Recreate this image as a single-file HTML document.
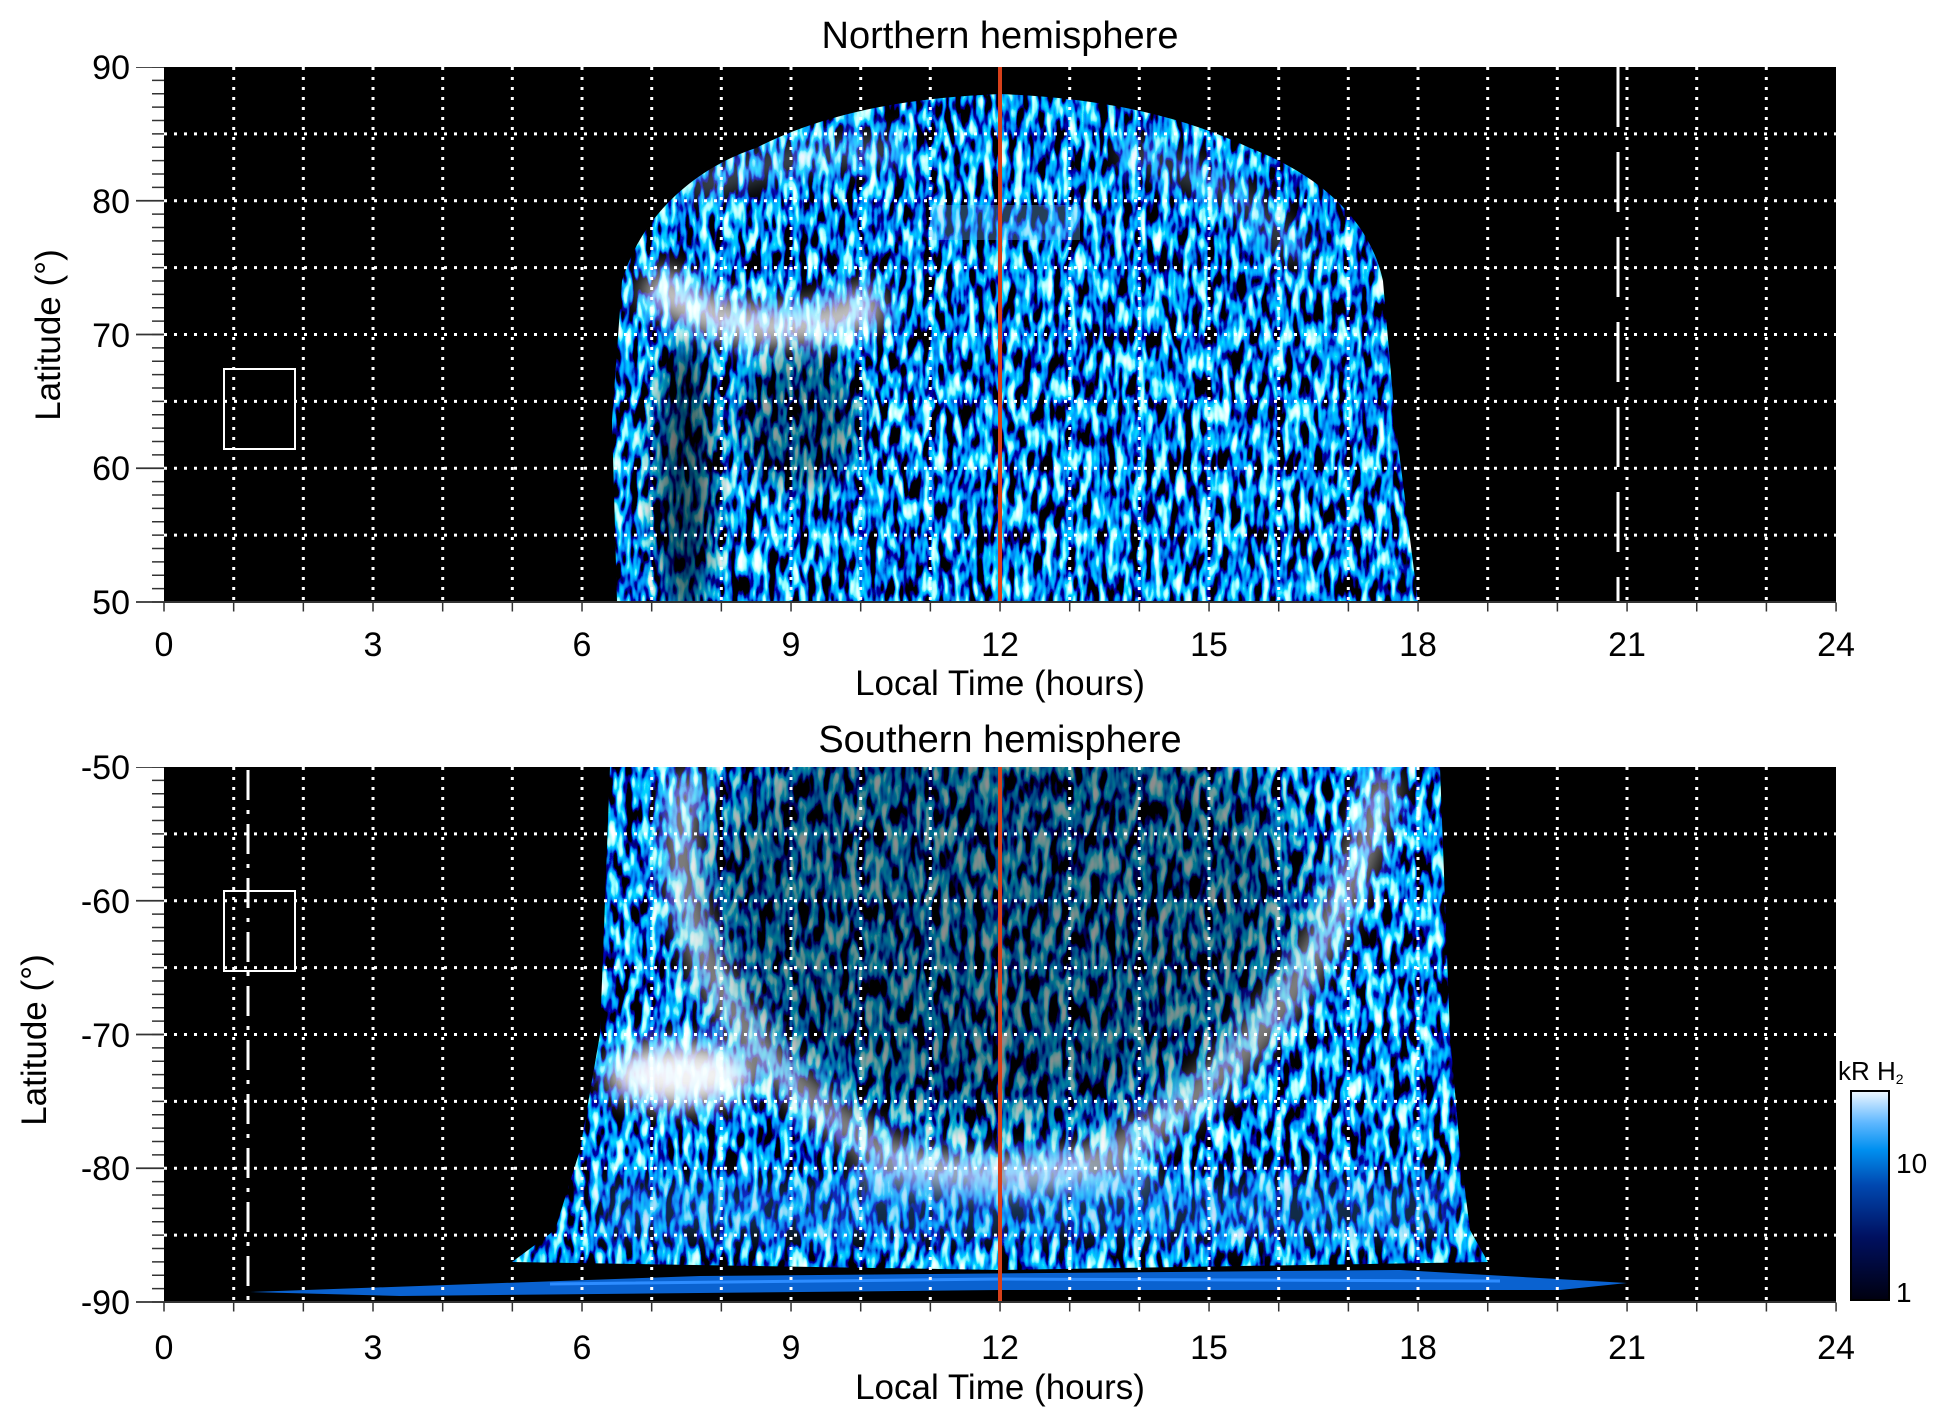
<!DOCTYPE html>
<html><head><meta charset="utf-8"><style>
html,body{margin:0;padding:0;background:#fff;}
svg{display:block;font-family:"Liberation Sans",sans-serif;}
</style></head><body>
<svg width="1950" height="1423" viewBox="0 0 1950 1423" xmlns="http://www.w3.org/2000/svg">
<defs>
<filter id="tex1" x="0" y="0" width="1" height="1">
 <feTurbulence type="fractalNoise" baseFrequency="0.13 0.04" numOctaves="2" seed="4"/>
 <feColorMatrix type="matrix" values="5 0 0 0 -3.0  4.5 0 0 0 -2.0  7 0 0 0 -2.6  0 0 0 0 1"/>
</filter>
<filter id="tex2" x="0" y="0" width="1" height="1">
 <feTurbulence type="fractalNoise" baseFrequency="0.12 0.04" numOctaves="2" seed="9"/>
 <feColorMatrix type="matrix" values="5 0 0 0 -3.0  4.5 0 0 0 -2.0  7 0 0 0 -2.6  0 0 0 0 1"/>
</filter>
<filter id="blur" x="-1" y="-1" width="3" height="3"><feGaussianBlur stdDeviation="12"/></filter>
<filter id="blur2" x="-1" y="-1" width="3" height="3"><feGaussianBlur stdDeviation="30"/></filter>
<clipPath id="cn"><path d="M617,602 L612,420 L622,281 C640,220 690,170 756,148 C820,115 900,98 1000,94 C1100,98 1180,115 1250,148 C1320,175 1370,220 1383,281 L1395,420 L1418,602 Z"/></clipPath>
<clipPath id="cs"><path d="M610,767 L605,900 L600,1034 L580,1150 L555,1230 L512,1262 L1000,1270 L1488,1262 L1470,1230 L1460,1150 L1450,1034 L1445,900 L1440,767 Z"/></clipPath>
<clipPath id="ps"><rect x="164" y="767" width="1672" height="535"/></clipPath>
<clipPath id="pn"><rect x="164" y="67" width="1672" height="535"/></clipPath>
<linearGradient id="cb" x1="0" y1="1" x2="0" y2="0">
 <stop offset="0" stop-color="#000010"/><stop offset="0.3" stop-color="#001060"/>
 <stop offset="0.55" stop-color="#0048b0"/><stop offset="0.72" stop-color="#0090f0"/>
 <stop offset="0.85" stop-color="#60b8ff"/><stop offset="1" stop-color="#f0f8ff"/>
</linearGradient>
</defs>

<text x="1000" y="48" font-size="38" text-anchor="middle">Northern hemisphere</text>
<text x="1000" y="752" font-size="38" text-anchor="middle">Southern hemisphere</text>

<!-- TOP PLOT -->
<rect x="164" y="67" width="1672" height="535" fill="#000"/>
<g clip-path="url(#pn)">
<g clip-path="url(#cn)">
 <rect x="600" y="80" width="830" height="530" filter="url(#tex1)"/>
 <path d="M650,280 C710,330 800,345 880,300" stroke="#fff" stroke-width="40" fill="none" opacity="0.8" filter="url(#blur)"/>
 <path d="M690,190 C760,160 830,150 900,150" stroke="#bfe0ff" stroke-width="25" fill="none" opacity="0.4" filter="url(#blur)"/>
 <path d="M1120,150 C1200,170 1260,200 1300,260" stroke="#bfe0ff" stroke-width="25" fill="none" opacity="0.35" filter="url(#blur)"/>
 <ellipse cx="685" cy="480" rx="30" ry="140" fill="#000" opacity="0.6" filter="url(#blur)"/>
 <ellipse cx="800" cy="420" rx="60" ry="70" fill="#000" opacity="0.4" filter="url(#blur)"/>
 <rect x="930" y="205" width="150" height="35" fill="#6ab8ff" opacity="0.35"/>
</g>
</g>
<g stroke="#fff" stroke-width="3" stroke-dasharray="3 7" fill="none">
<path d="M233.7,67V602M303.3,67V602M373,67V602M442.7,67V602M512.3,67V602M582,67V602M651.7,67V602M721.3,67V602M791,67V602M860.7,67V602M930.3,67V602M1069.7,67V602M1139.3,67V602M1209,67V602M1278.7,67V602M1348.3,67V602M1418,67V602M1487.7,67V602M1557.3,67V602M1627,67V602M1696.7,67V602M1766.3,67V602"/>
<path d="M164,133.9H1836M164,200.75H1836M164,267.6H1836M164,334.5H1836M164,401.4H1836M164,468.25H1836M164,535.1H1836"/>
</g>
<line x1="1000" y1="67" x2="1000" y2="602" stroke="#d8401a" stroke-width="4"/>
<line x1="1618" y1="67" x2="1618" y2="602" stroke="#fff" stroke-width="3" stroke-dasharray="60 25"/>
<rect x="224" y="369" width="71" height="80" fill="none" stroke="#fff" stroke-width="2"/>
<line x1="164" y1="602" x2="1836" y2="602" stroke="#333" stroke-width="2"/>
<line x1="158" y1="67" x2="158" y2="603" stroke="#333" stroke-width="12" stroke-dasharray="1.5 11.875" stroke-dashoffset="0.75"/>
<line x1="150" y1="67" x2="150" y2="603" stroke="#333" stroke-width="28" stroke-dasharray="1.8 131.95" stroke-dashoffset="0.9"/>
<line x1="163" y1="607" x2="1838" y2="607" stroke="#333" stroke-width="9" stroke-dasharray="1.5 68.17" stroke-dashoffset="-0.25"/>
<g font-size="34" text-anchor="end">
<text x="130" y="79">90</text><text x="130" y="213">80</text><text x="130" y="347">70</text>
<text x="130" y="480">60</text><text x="130" y="614">50</text>
</g>
<g font-size="34" text-anchor="middle">
<text x="164" y="656">0</text><text x="373" y="656">3</text><text x="582" y="656">6</text><text x="791" y="656">9</text>
<text x="1000" y="656">12</text><text x="1209" y="656">15</text><text x="1418" y="656">18</text><text x="1627" y="656">21</text><text x="1836" y="656">24</text>
</g>
<text x="1000" y="695" font-size="35" text-anchor="middle">Local Time (hours)</text>
<text transform="translate(60,335) rotate(-90)" font-size="35" text-anchor="middle">Latitude (°)</text>

<!-- BOTTOM PLOT -->
<rect x="164" y="767" width="1672" height="535" fill="#000"/>
<g clip-path="url(#ps)">
<g clip-path="url(#cs)">
 <rect x="500" y="767" width="1000" height="510" filter="url(#tex2)"/>
 <ellipse cx="1000" cy="900" rx="300" ry="220" fill="#000" opacity="0.45" filter="url(#blur2)"/>
 <path d="M690,775 C660,880 700,1040 880,1150 C960,1185 1040,1185 1120,1150 C1300,1040 1360,880 1385,775" stroke="#fff" stroke-width="30" fill="none" opacity="0.6" filter="url(#blur)"/>
 <ellipse cx="680" cy="1075" rx="75" ry="32" fill="#fff" opacity="0.95" filter="url(#blur)"/>
 <rect x="860" y="1160" width="290" height="30" fill="#cfe6ff" opacity="0.55" filter="url(#blur)"/>
 <rect x="600" y="1180" width="850" height="60" fill="#3a90f0" opacity="0.3" filter="url(#blur)"/>
</g>
 <path d="M250,1292 L700,1276 L1400,1270 L1627,1283 L1560,1290 L1000,1290 L400,1296 Z" fill="#0a62d0"/>
 <path d="M550,1284 L1000,1279 L1500,1281" stroke="#2d8cff" stroke-width="3" fill="none"/>
</g>
<g stroke="#fff" stroke-width="3" stroke-dasharray="3 7" fill="none">
<path d="M233.7,767V1302M303.3,767V1302M373,767V1302M442.7,767V1302M512.3,767V1302M582,767V1302M651.7,767V1302M721.3,767V1302M791,767V1302M860.7,767V1302M930.3,767V1302M1069.7,767V1302M1139.3,767V1302M1209,767V1302M1278.7,767V1302M1348.3,767V1302M1418,767V1302M1487.7,767V1302M1557.3,767V1302M1627,767V1302M1696.7,767V1302M1766.3,767V1302"/>
<path d="M164,833.9H1836M164,900.75H1836M164,967.6H1836M164,1034.5H1836M164,1101.4H1836M164,1168.25H1836M164,1235.1H1836"/>
</g>
<line x1="1000" y1="767" x2="1000" y2="1302" stroke="#d8401a" stroke-width="4"/>
<line x1="248" y1="770" x2="248" y2="1300" stroke="#fff" stroke-width="3" stroke-dasharray="30 10 4 10"/>
<rect x="224" y="891" width="71" height="80" fill="none" stroke="#fff" stroke-width="2"/>
<line x1="164" y1="1302" x2="1836" y2="1302" stroke="#333" stroke-width="2"/>
<line x1="158" y1="767" x2="158" y2="1303" stroke="#333" stroke-width="12" stroke-dasharray="1.5 11.875" stroke-dashoffset="0.75"/>
<line x1="150" y1="767" x2="150" y2="1303" stroke="#333" stroke-width="28" stroke-dasharray="1.8 131.95" stroke-dashoffset="0.9"/>
<line x1="163" y1="1307" x2="1838" y2="1307" stroke="#333" stroke-width="9" stroke-dasharray="1.5 68.17" stroke-dashoffset="-0.25"/>
<g font-size="34" text-anchor="end">
<text x="130" y="779">-50</text><text x="130" y="913">-60</text><text x="130" y="1047">-70</text>
<text x="130" y="1180">-80</text><text x="130" y="1314">-90</text>
</g>
<g font-size="34" text-anchor="middle">
<text x="164" y="1359">0</text><text x="373" y="1359">3</text><text x="582" y="1359">6</text><text x="791" y="1359">9</text>
<text x="1000" y="1359">12</text><text x="1209" y="1359">15</text><text x="1418" y="1359">18</text><text x="1627" y="1359">21</text><text x="1836" y="1359">24</text>
</g>
<text x="1000" y="1399" font-size="35" text-anchor="middle">Local Time (hours)</text>
<text transform="translate(46,1040) rotate(-90)" font-size="35" text-anchor="middle">Latitude (°)</text>

<rect x="1851" y="1091" width="38" height="209" fill="url(#cb)" stroke="#000" stroke-width="2"/>
<text x="1838" y="1080" font-size="26">kR H<tspan font-size="14" dy="4">2</tspan></text>
<text x="1896" y="1173" font-size="28">10</text>
<text x="1896" y="1302" font-size="28">1</text>
</svg>
</body></html>
